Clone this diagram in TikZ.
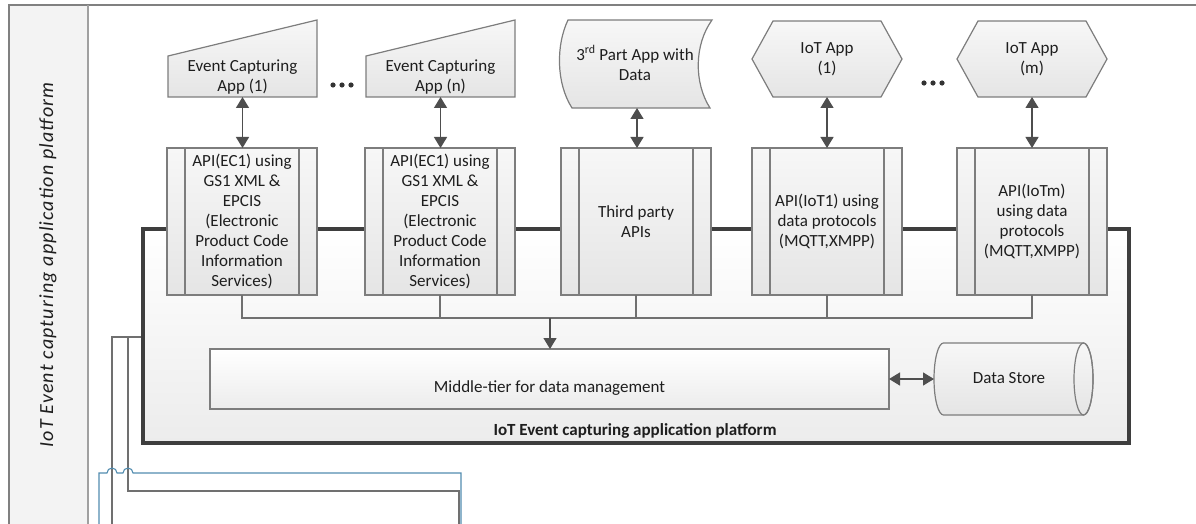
\documentclass[tikz,border=0pt]{standalone}
\usepackage{fontspec}
\setmainfont{Carlito}
\usetikzlibrary{arrows.meta,calc}
\definecolor{boxline}{RGB}{125,125,125}
\definecolor{connc}{RGB}{112,112,112}
\definecolor{arrc}{RGB}{78,78,78}
\definecolor{thickc}{RGB}{62,62,62}
\definecolor{fillA}{RGB}{247,247,247}
\definecolor{fillB}{RGB}{229,229,229}
\definecolor{bluel}{RGB}{82,140,175}
\definecolor{lanefill}{RGB}{243,243,243}
\definecolor{laneline}{RGB}{128,128,128}
\definecolor{txtc}{RGB}{30,30,30}
\begin{document}
\begin{tikzpicture}[x=1pt,y=-1pt,
  txt/.style={font=\fontsize{17}{20}\selectfont, align=center, text=txtc, inner sep=0},
  apibox/.style={draw=boxline, line width=1.2pt, top color=fillA, bottom color=fillB,
     minimum width=150pt, minimum height=147pt, inner sep=0, outer sep=0,
     font=\fontsize{17}{20}\selectfont, align=center, text=txtc},
  shapeline/.style={draw=boxline, line width=1.2pt, top color=fillA, bottom color=fillB},
  holder/.style={draw=none, inner sep=0, outer sep=0},
  conn/.style={draw=connc, line width=1.1pt},
  dbl/.style={draw=arrc, line width=1.3pt, {Triangle[length=11pt,width=13pt]}-{Triangle[length=11pt,width=13pt]}},
  sgl/.style={draw=arrc, line width=1.3pt, -{Triangle[length=11pt,width=13pt]}},
  dot/.style={fill=black!80},
]
\useasboundingbox (0,0) rectangle (1196,524);
% swimlane
\fill[lanefill] (9,5) rectangle (88,524);
\draw[laneline, line width=2pt] (9,524) -- (9,5) -- (1196,5);
\draw[laneline!75, line width=1.6pt] (88,5) -- (88,524);
\node[rotate=90, font=\fontsize{20}{24}\selectfont\itshape\addfontfeatures{LetterSpace=6}, text=txtc, inner sep=0] (lanelabel) at (48,265) {IoT Event capturing application platform};

% platform
\node[draw=thickc, line width=4pt, top color=white, bottom color={rgb,255:red,236;green,236;blue,236},
  minimum width=986pt, minimum height=214pt, inner sep=0, outer sep=0] (plat) at (636,336) {};
\node[txt, font=\fontsize{17}{20}\selectfont\bfseries] (platlabel) at (635,431) {IoT Event capturing application platform};

% API boxes
\node[apibox] (api1) at (242,221.5) {API(EC1) using\\GS1 XML \&\\EPCIS\\(Electronic\\Product Code\\Information\\Services)};
\node[apibox] (api2) at (440,221.5) {API(EC1) using\\GS1 XML \&\\EPCIS\\(Electronic\\Product Code\\Information\\Services)};
\node[apibox] (api3) at (636,221.5) {Third party\\APIs};
\node[apibox] (api4) at (827,221.5) {API(IoT1) using\\data protocols\\(MQTT,XMPP)};
\node[apibox] (api5) at (1032,221.5) {API(IoTm)\\using data\\protocols\\(MQTT,XMPP)};
\foreach \n in {api1,api2,api3,api4,api5}{
  \draw[boxline, line width=1.2pt] ([xshift=18pt]\n.north west) -- ([xshift=18pt]\n.south west);
  \draw[boxline, line width=1.2pt] ([xshift=-18pt]\n.north east) -- ([xshift=-18pt]\n.south east);
}

% top shapes
\node[holder, minimum width=149pt, minimum height=77pt] (ec1) at (242.5,58.5) {};
\draw[shapeline] (ec1.south west) -- (ec1.south east) -- (ec1.north east) -- ([yshift=-36pt]ec1.north west) -- cycle;
\node[txt] (ec1t) at (242.5,77) {Event Capturing\\App (1)};

\node[holder, minimum width=149pt, minimum height=77pt] (ecn) at (440.5,58.5) {};
\draw[shapeline] (ecn.south west) -- (ecn.south east) -- (ecn.north east) -- ([yshift=-36pt]ecn.north west) -- cycle;
\node[txt] (ecnt) at (440.5,77) {Event Capturing\\App (n)};

\node[holder, minimum width=150pt, minimum height=88pt] (tp) at (637,64) {};
\draw[shapeline] (568,20) -- (712,20) .. controls (694,45) and (694,83) .. (710,108) -- (572,108) .. controls (556,83) and (556,45) .. (568,20) -- cycle;
\node[txt] (tpt) at (635,63) {3\textsuperscript{rd} Part App with\\Data};

\node[holder, minimum width=150pt, minimum height=76pt] (iot1) at (827,59) {};
\draw[shapeline] (iot1.west) -- ([xshift=21pt]iot1.north west) -- ([xshift=-21pt]iot1.north east) -- (iot1.east) -- ([xshift=-21pt]iot1.south east) -- ([xshift=21pt]iot1.south west) -- cycle;
\node[txt] (iot1t) at (iot1.center) {IoT App\\(1)};

\node[holder, minimum width=150pt, minimum height=76pt] (iotm) at (1032,59) {};
\draw[shapeline] (iotm.west) -- ([xshift=21pt]iotm.north west) -- ([xshift=-21pt]iotm.north east) -- (iotm.east) -- ([xshift=-21pt]iotm.south east) -- ([xshift=21pt]iotm.south west) -- cycle;
\node[txt] (iotmt) at (iotm.center) {IoT App\\(m)};

% ellipsis dots
\foreach \x in {333,342,351} \fill[dot] (\x,85) circle (2.6pt);
\foreach \x in {924,933,942} \fill[dot] (\x,83) circle (2.6pt);

% arrows app <-> api
\draw[dbl] (ec1.south) -- (ec1.south |- api1.north);
\draw[dbl] (ecn.south) -- (ecn.south |- api2.north);
\draw[dbl] (tp.south) -- (tp.south |- api3.north);
\draw[dbl] (iot1.south) -- (iot1.south |- api4.north);
\draw[dbl] (iotm.south) -- (iotm.south |- api5.north);

% middle tier
\node[draw=boxline, line width=1.2pt, top color=white, bottom color={rgb,255:red,236;green,236;blue,236},
  minimum width=679pt, minimum height=60pt, inner sep=0, outer sep=0] (mid) at (549.5,379) {};
\node[txt] (midt) at (549.5,388) {Middle-tier for data management};

% data store
\node[holder, minimum width=159pt, minimum height=72pt] (ds) at (1013.5,379) {};
\draw[shapeline] (943.5,343) -- (1083.5,343) arc[start angle=90, end angle=-90, x radius=9.5pt, y radius=36pt]
  -- (943.5,415) arc[start angle=270, end angle=90, x radius=9.5pt, y radius=36pt] -- cycle;
\draw[boxline, line width=1.2pt] (1083.5,379) ellipse [x radius=9.5pt, y radius=36pt];
\node[txt] (dst) at (1009,378) {Data Store};

% bus
\coordinate (bus) at (550,318);
\foreach \n in {api1,api2,api3,api4,api5} \draw[conn] (\n.south) |- (bus);
\draw[sgl] (bus) -- (bus |- mid.north);
\draw[dbl] (mid.east) -- (ds.west);

% outside lines
\coordinate (pj) at (141,337);
\coordinate (g1) at (112,524);
\coordinate (g2) at (459,524);
\coordinate (b1) at (99,524);
\coordinate (b2) at (461,524);
\draw[conn] (pj) -- (112,337) -- (g1);
\draw[conn] (pj) -- (128,337) -- (128,491) -- (459,491) -- (g2);
\draw[bluel, line width=1.1pt] (b1) -- (99,473) -- (107,473) arc[start angle=180, end angle=0, radius=5pt]
  -- (123,473) arc[start angle=180, end angle=0, radius=5pt] -- (461,473) -- (b2);
\end{tikzpicture}
\end{document}
